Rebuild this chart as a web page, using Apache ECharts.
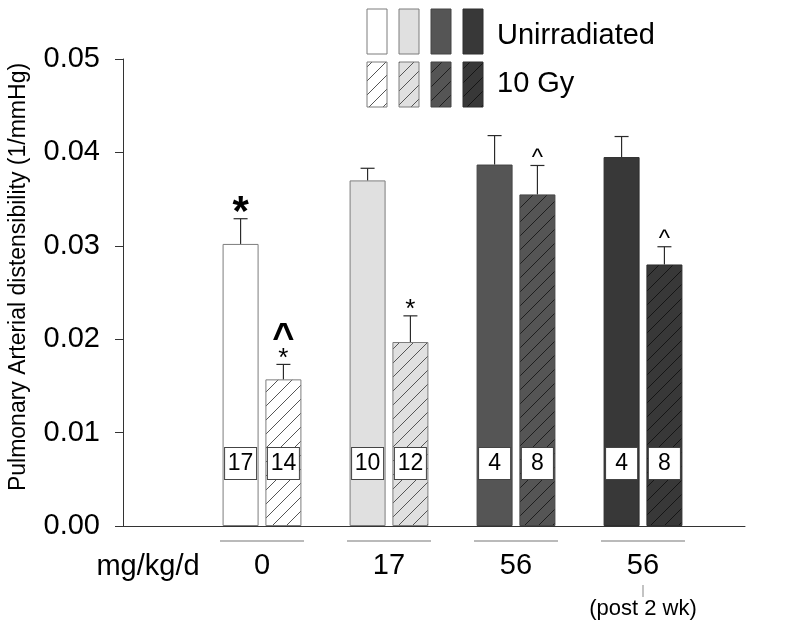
<!DOCTYPE html>
<html><head><meta charset="utf-8">
<script src="https://cdn.jsdelivr.net/npm/echarts@6/dist/echarts.min.js"></script>
<style>html,body{margin:0;padding:0;background:#fff}#c{width:800px;height:630px}</style>
</head><body><div id="c"></div>
<script>
// ---- data ----
const doses = ['0', '17', '56', '56'];
const doseNotes = ['', '', '', '(post 2 wk)'];
const doseUnit = 'mg/kg/d';
const seriesNames = ['Unirradiated', '10 Gy'];
const unirradiated = [0.0302, 0.0370, 0.0387, 0.0395];
const unirradiatedErr = [0.0329, 0.0383, 0.0418, 0.0417];
const irradiated = [0.0157, 0.0197, 0.0355, 0.0280];
const irradiatedErr = [0.0173, 0.0225, 0.0386, 0.0299];
const unirradiatedN = [17, 10, 4, 4];
const irradiatedN = [14, 12, 8, 8];
const unirradiatedMarks = [['*'], [], [], []];
const irradiatedMarks = [['*', '^'], ['*'], ['^'], ['^']];
const yTickValues = [0, 0.01, 0.02, 0.03, 0.04, 0.05];
const yName = 'Pulmonary Arterial distensibility (1/mmHg)';

// ---- styles ----
const FONT = 'Liberation Sans, Arial, sans-serif';
const fills = ['#ffffff', '#e0e0e0', '#555555', '#383838'];
const borders = ['#7d7d7d', '#7d7d7d', '#454545', '#2e2e2e'];
const hatchLines = ['#555555', '#555555', '#1e1e1e', '#151515'];
const BAR_W = 36, BAR_GAP = '19%';

function hatch(bg, line) {
  const s = 14, c = document.createElement('canvas');
  c.width = s; c.height = s;
  const g = c.getContext('2d');
  g.fillStyle = bg; g.fillRect(0, 0, s, s);
  g.strokeStyle = line; g.lineWidth = 1;
  g.beginPath();
  g.moveTo(-1, s + 1); g.lineTo(s + 1, -1);
  g.moveTo(-1, 1); g.lineTo(1, -1);
  g.moveTo(s - 1, s + 1); g.lineTo(s + 1, s - 1);
  g.stroke();
  return { image: c, repeat: 'repeat' };
}
const hatchFills = fills.map((f, i) => hatch(f, hatchLines[i]));

function barSeries(idx, vals, ns) {
  return {
    name: seriesNames[idx], type: 'bar', xAxisIndex: 1, yAxisIndex: 1,
    barWidth: BAR_W, barGap: BAR_GAP, z: 3,
    data: vals.map((v, i) => ({
      value: v,
      itemStyle: { color: idx === 0 ? fills[i] : hatchFills[i], borderColor: borders[i], borderWidth: 1 }
    })),
    label: {
      show: true, position: 'insideBottom', distance: 47,
      formatter: p => String(ns[p.dataIndex]),
      backgroundColor: '#fff', borderColor: '#444', borderWidth: 1,
      padding: [4, 3], width: 25, align: 'center',
      fontSize: 23, lineHeight: 23, color: '#000', fontFamily: FONT
    }
  };
}

const markStyle = {
  small: { '*': { fs: 26, k: 0.225, h: 9 }, '^': { fs: 24, k: 0.17, h: 9 } },
  big: { '*': { fs: 42, k: 0.2, h: 14 }, '^': { fs: 38, k: 0.17, h: 14 } }
};

function errSeries(idx, vals, errs, marks) {
  return {
    type: 'custom', xAxisIndex: 1, yAxisIndex: 1, z: 5,
    data: vals.map((v, i) => [i, v, errs[i]]),
    renderItem(params, api) {
      const cat = api.value(0);
      let off;
      try { off = api.barLayout({ count: 2, barWidth: BAR_W, barGap: BAR_GAP })[idx].offsetCenter; }
      catch (e) { off = (idx ? 1 : -1) * BAR_W * 1.19 / 2; }
      const base = api.coord([cat, api.value(1)]);
      const top = api.coord([cat, api.value(2)]);
      const x = base[0] + off;
      const st = { stroke: '#2a2a2a', lineWidth: 1.2 };
      const children = [
        { type: 'line', shape: { x1: x, y1: base[1], x2: x, y2: top[1] }, style: st },
        { type: 'line', shape: { x1: x - 7, y1: top[1], x2: x + 7, y2: top[1] }, style: st }
      ];
      const list = marks[cat] || [];
      const emphasize = cat === 0;
      let cursor = top[1] - 7;
      list.forEach((m, j) => {
        const big = emphasize && (list.length === 1 || j === list.length - 1);
        const ms = (big ? markStyle.big : markStyle.small)[m];
        const center = cursor - ms.h / 2;
        children.push({
          type: 'text',
          style: {
            text: m, x: x, y: center + ms.k * ms.fs, align: 'center', verticalAlign: 'middle',
            fontSize: ms.fs, fontWeight: big ? 'bold' : 'normal', fontFamily: FONT, fill: '#000'
          }
        });
        cursor -= ms.h + 8;
      });
      return { type: 'group', children };
    }
  };
}

// legend graphics
const legendEls = [];
fills.forEach((f, i) => {
  const x = 367 + i * 32;
  legendEls.push({ type: 'rect', shape: { x: x, y: 9, width: 20, height: 45 }, style: { fill: f, stroke: borders[i], lineWidth: 1 } });
  legendEls.push({ type: 'rect', shape: { x: x, y: 62, width: 20, height: 45 }, style: { fill: hatchFills[i], stroke: borders[i], lineWidth: 1 } });
});
legendEls.push({ type: 'text', style: { text: seriesNames[0], x: 497, y: 36, verticalAlign: 'middle', fontSize: 29, fontFamily: FONT, fill: '#000' } });
legendEls.push({ type: 'text', style: { text: seriesNames[1], x: 497, y: 84, verticalAlign: 'middle', fontSize: 29, fontFamily: FONT, fill: '#000' } });

const chart = echarts.init(document.getElementById('c'), null, { renderer: 'canvas' });
chart.setOption({
  animation: false,
  backgroundColor: '#fff',
  textStyle: { fontFamily: FONT },
  grid: [
    { left: 123, right: 55, top: 59, bottom: 104 },
    { left: 198.5, width: 508, top: 59, bottom: 104 }
  ],
  xAxis: [
    { gridIndex: 0, type: 'value', min: 0, max: 1, axisLine: { show: true, lineStyle: { color: '#333', width: 1 } },
      axisTick: { show: false }, axisLabel: { show: false }, splitLine: { show: false } },
    { gridIndex: 1, type: 'category', data: doses, axisLine: { show: false }, axisTick: { show: false },
      axisLabel: {
        interval: 0, margin: 10, color: '#000',
        formatter: (v, i) => '{ul|}\n{num|' + v + '}' + (doseNotes[i] ? '\n{tk|}\n{note|' + doseNotes[i] + '}' : ''),
        rich: {
          ul: { width: 84, height: 1, backgroundColor: '#777', lineHeight: 10 },
          num: { fontSize: 29, lineHeight: 40, color: '#000', fontFamily: FONT },
          tk: { width: 1, height: 12, backgroundColor: '#888', lineHeight: 10 },
          note: { fontSize: 22, lineHeight: 26, color: '#000', fontFamily: FONT }
        }
      } }
  ],
  yAxis: [
    { gridIndex: 0, type: 'value', min: yTickValues[0], max: yTickValues[yTickValues.length - 1], interval: 0.01,
      axisLine: { show: true, lineStyle: { color: '#333', width: 1 } },
      axisTick: { show: true, length: 8, lineStyle: { color: '#333' } },
      axisLabel: { fontSize: 29, color: '#000', margin: 23, formatter: v => v.toFixed(2) },
      splitLine: { show: false } },
    { gridIndex: 1, type: 'value', min: yTickValues[0], max: yTickValues[yTickValues.length - 1], show: false }
  ],
  graphic: [
    { type: 'text', x: 19, y: 277, rotation: Math.PI / 2,
      style: { text: yName, align: 'center', verticalAlign: 'middle', fontSize: 23, fontFamily: FONT, fill: '#000' } },
    { type: 'text', x: 148, y: 567,
      style: { text: doseUnit, align: 'center', verticalAlign: 'middle', fontSize: 29, fontFamily: FONT, fill: '#000' } },
    { type: 'group', children: legendEls }
  ],
  series: [
    barSeries(0, unirradiated, unirradiatedN),
    barSeries(1, irradiated, irradiatedN),
    errSeries(0, unirradiated, unirradiatedErr, unirradiatedMarks),
    errSeries(1, irradiated, irradiatedErr, irradiatedMarks)
  ]
});
</script></body></html>
